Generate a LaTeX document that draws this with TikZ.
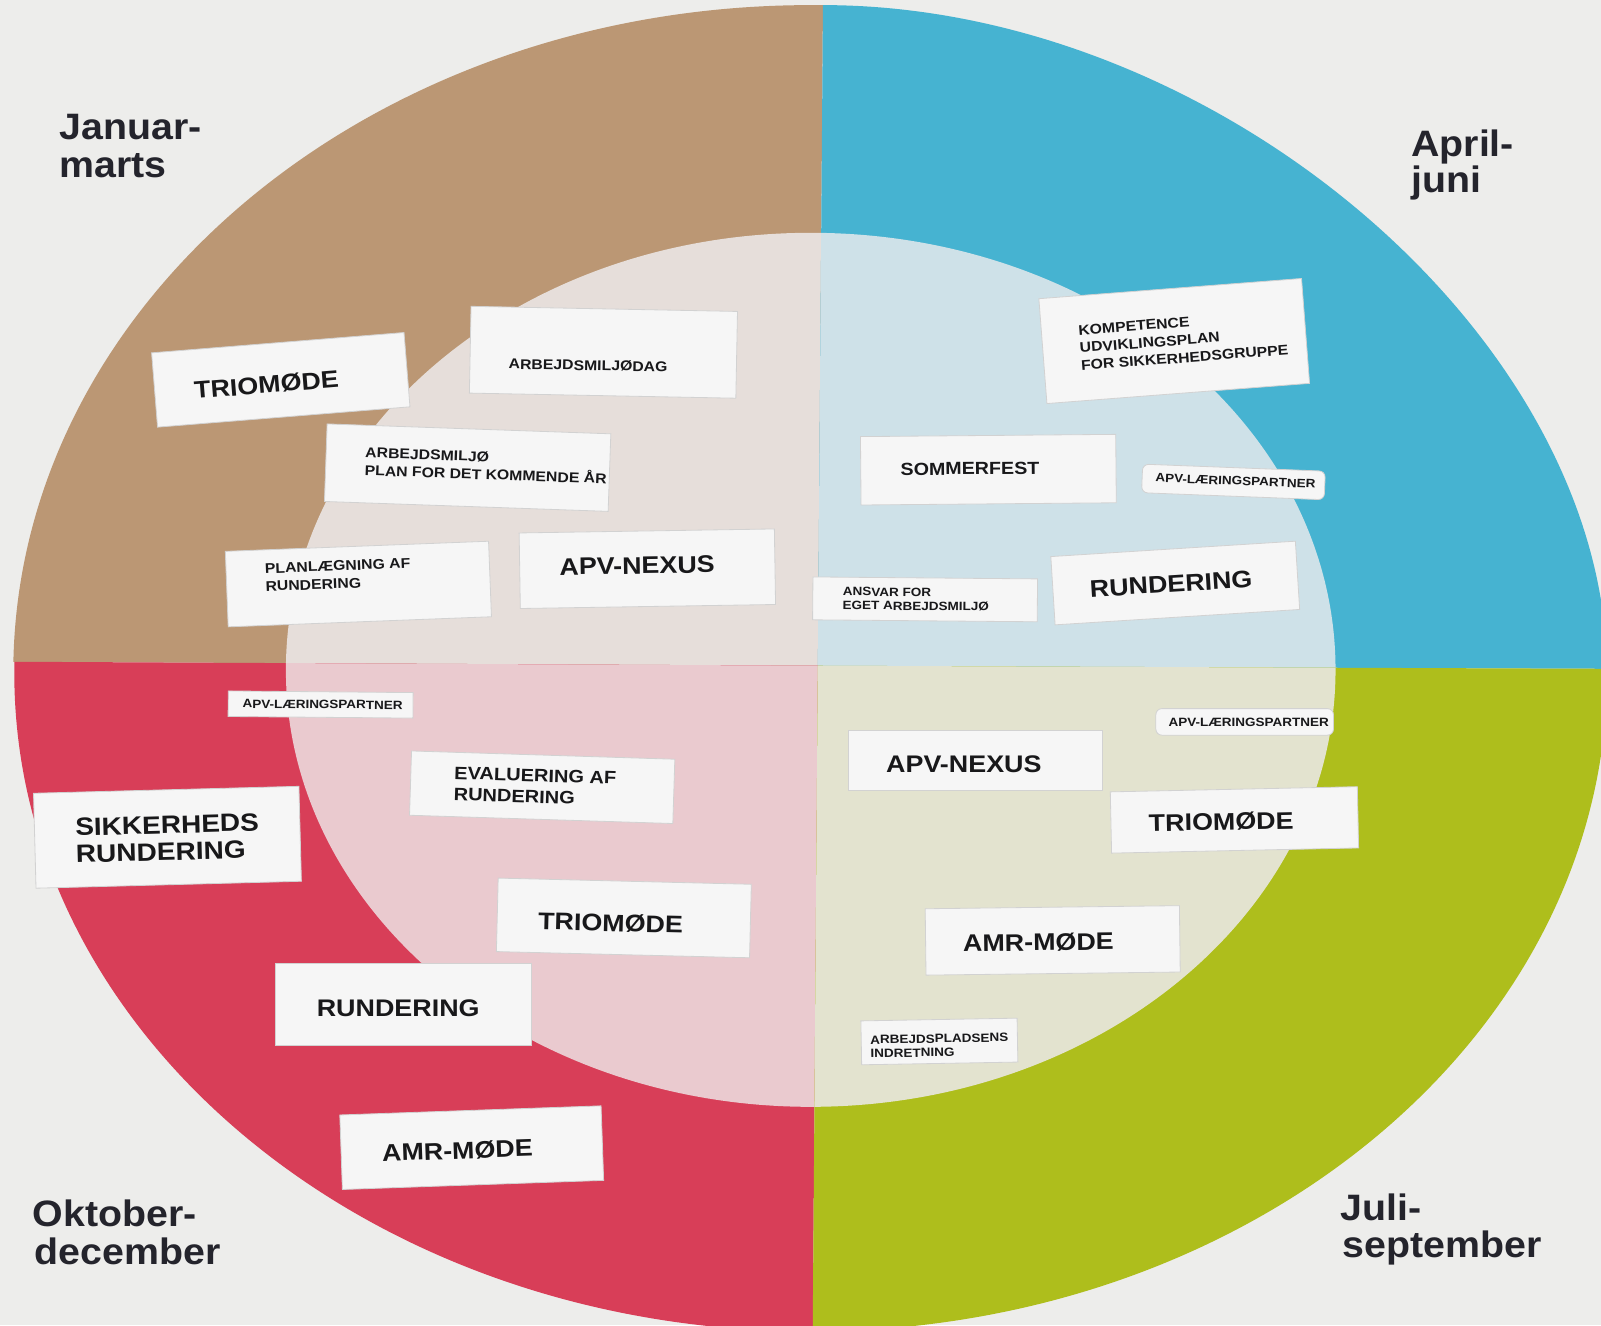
\documentclass[tikz,border=0pt]{standalone}
\usepackage{fontspec}
\setmainfont{Liberation Sans}
\newfontfamily\cardfont[FakeStretch=1.12]{Liberation Sans}
\newfontfamily\quartfont[FakeStretch=1.07]{Liberation Sans}
\definecolor{bgc}{RGB}{237,237,235}
\definecolor{brownc}{RGB}{187,151,116}
\definecolor{cyanc}{RGB}{70,179,209}
\definecolor{redc}{RGB}{216,62,88}
\definecolor{limec}{RGB}{174,190,28}
\definecolor{intl}{RGB}{230,222,218}
\definecolor{intr}{RGB}{206,225,232}
\definecolor{inbl}{RGB}{234,202,207}
\definecolor{inbr}{RGB}{227,227,207}
\definecolor{cardc}{RGB}{246,246,246}
\definecolor{cardedge}{RGB}{210,210,210}
\definecolor{txt}{RGB}{24,24,26}
\definecolor{qtxt}{RGB}{36,36,44}
\tikzset{
  card/.style={fill=cardc, draw=cardedge, line width=0.8, inner sep=0},
  tagcard/.style={card, rounded corners=6},
  big/.style={font=\cardfont\bfseries\fontsize{23.5}{27}\selectfont, text=txt, inner sep=0, align=left},
  bigtwo/.style={font=\cardfont\bfseries\fontsize{24.5}{26.5}\selectfont, text=txt, inner sep=0, align=left},
  midbig/.style={font=\cardfont\bfseries\fontsize{17.5}{21}\selectfont, text=txt, inner sep=0, align=left},
  mid/.style={font=\cardfont\bfseries\fontsize{13.8}{17.5}\selectfont, text=txt, inner sep=0, align=left},
  small/.style={font=\cardfont\bfseries\fontsize{11.8}{13.5}\selectfont, text=txt, inner sep=0, align=left},
  quarter/.style={font=\quartfont\bfseries\fontsize{36}{36}\selectfont, text=qtxt, inner sep=0, anchor=base west}
}
\begin{document}
\begin{tikzpicture}[x=1pt,y=-1pt]
\useasboundingbox (0,0) rectangle (1568,1298);
\clip (0,0) rectangle (1568,1298);
\fill[bgc] (0,0) rectangle (1568,1298);
% quadrants
\begin{scope}
  \clip (-50,-50) -- (806.4,-50) -- (801,652) -- (-50,647.8) -- cycle;
  \fill[brownc] (794,659) ellipse [x radius=781, y radius=654];
  \fill[intl] (794,656) ellipse [x radius=514, y radius=428];
\end{scope}
\begin{scope}
  \clip (806.4,-50) -- (1650,-50) -- (1650,655.3) -- (801,652) -- cycle;
  \fill[cyanc] (801,652) -- (806,5) .. controls (1190,5) and (1574,330) .. (1574,660) -- cycle;
  \fill[intr] (794,656) ellipse [x radius=514, y radius=428];
\end{scope}
\begin{scope}
  \clip (-50,647.8) -- (801,652) -- (795.6,1350) -- (-50,1350) -- cycle;
  \fill[redc] (794,659) ellipse [x radius=780, y radius=645];
  \fill[inbl] (794,656) ellipse [x radius=514, y radius=428];
\end{scope}
\begin{scope}
  \clip (801,652) -- (1650,655.3) -- (1650,1350) -- (795.6,1350) -- cycle;
  \fill[limec] (794,659) ellipse [x radius=780, y radius=645];
  \fill[inbr] (794,656) ellipse [x radius=514, y radius=428];
\end{scope}
% quarter labels
\node[quarter] (q1a) at (58,137) {Januar-};
\node[quarter] (q1b) at (58,174) {marts};
\node[quarter] (q2a) at (1382,153) {April-};
\node[quarter] (q2b) at (1382,189) {juni};
\node[quarter] (q4a) at (32,1201) {Oktober-};
\node[quarter] (q4b) at (34,1238) {december};
\node[quarter] (q3a) at (1313,1195) {Juli-};
\node[quarter] (q3b) at (1315,1232) {september};
% cards
\node[card, minimum width=248, minimum height=73, rotate=4.6] (c1) at (275,372) {};
\node[big, rotate=4.6] (t1) at (261,377) {TRIOMØDE};
\node[card, minimum width=261, minimum height=85, rotate=-1.1] (c2) at (591,345) {};
\node[mid, rotate=-1.1] (t2) at (576,358) {ARBEJDSMILJØDAG};
\node[card, minimum width=278, minimum height=76, rotate=-2] (c3) at (458,458) {};
\node[mid, rotate=-2] (t3) at (476,456) {ARBEJDSMILJØ\\PLAN FOR DET KOMMENDE ÅR};
\node[card, minimum width=258, minimum height=74, rotate=2.2] (c4) at (351,572) {};
\node[mid, rotate=2.2] (t4) at (331,563) {PLANLÆGNING AF\\RUNDERING};
\node[card, minimum width=250, minimum height=74, rotate=0.9] (c5) at (634,557) {};
\node[big, rotate=0.9] (t5) at (624,554) {APV-NEXUS};
\node[card, minimum width=258, minimum height=103, rotate=4.4] (c6) at (1150,334) {};
\node[mid, rotate=4.4] (t6) at (1159,333) {KOMPETENCE\\UDVIKLINGSPLAN\\FOR SIKKERHEDSGRUPPE};
\node[card, minimum width=250, minimum height=67, rotate=0.5] (c7) at (968,460) {};
\node[font=\cardfont\bfseries\fontsize{17.2}{20}\selectfont, text=txt, inner sep=0, rotate=0.5] (t7) at (950,459) {SOMMERFEST};
\node[tagcard, minimum width=179, minimum height=28, rotate=-2.2] (c8) at (1208,472) {};
\node[small, rotate=-2.2] (t8) at (1210,471) {APV-LÆRINGSPARTNER};
\node[card, minimum width=240, minimum height=67, rotate=3.6] (c9) at (1151,571) {};
\node[big, rotate=3.6] (t9) at (1147,572) {RUNDERING};
\node[card, minimum width=220, minimum height=42, rotate=-0.5] (c10) at (906,587) {};
\node[small, rotate=-0.5] (t10) at (897,587) {ANSVAR FOR\\EGET ARBEJDSMILJØ};
\node[card, minimum width=181, minimum height=25, rotate=-0.5] (c11) at (314,690) {};
\node[small, rotate=-0.5] (t11) at (316,690) {APV-LÆRINGSPARTNER};
\node[card, minimum width=258, minimum height=63, rotate=-1.8] (c12) at (531,771) {};
\node[midbig, rotate=-1.8] (t12) at (524,770) {EVALUERING AF\\RUNDERING};
\node[card, minimum width=260, minimum height=93, rotate=1.5] (c13) at (164,820) {};
\node[bigtwo, rotate=1.5] (t13) at (164,821) {SIKKERHEDS\\RUNDERING};
\node[card, minimum width=248, minimum height=72, rotate=-1.4] (c14) at (611,899) {};
\node[big, rotate=-1.4] (t14) at (598,904) {TRIOMØDE};
\node[card, minimum width=250, minimum height=80] (c15) at (395,984) {};
\node[big] (t15) at (390,987) {RUNDERING};
\node[card, minimum width=256, minimum height=73, rotate=2] (c16) at (462,1124) {};
\node[big, rotate=2] (t16) at (448,1127) {AMR-MØDE};
\node[tagcard, minimum width=174, minimum height=26] (c17) at (1219,707) {};
\node[small] (t17) at (1223,707) {APV-LÆRINGSPARTNER};
\node[card, minimum width=249, minimum height=59] (c18) at (955,745) {};
\node[big] (t18) at (944,748) {APV-NEXUS};
\node[card, minimum width=242, minimum height=60, rotate=1.2] (c19) at (1209,803) {};
\node[big, rotate=1.2] (t19) at (1196,805) {TRIOMØDE};
\node[card, minimum width=249, minimum height=65, rotate=0.7] (c20) at (1031,921) {};
\node[big, rotate=0.7] (t20) at (1017,923) {AMR-MØDE};
\node[card, minimum width=153, minimum height=43, rotate=1] (c21) at (920,1020) {};
\node[small, rotate=1] (t21) at (920,1024) {ARBEJDSPLADSENS\\INDRETNING};
\end{tikzpicture}
\end{document}
